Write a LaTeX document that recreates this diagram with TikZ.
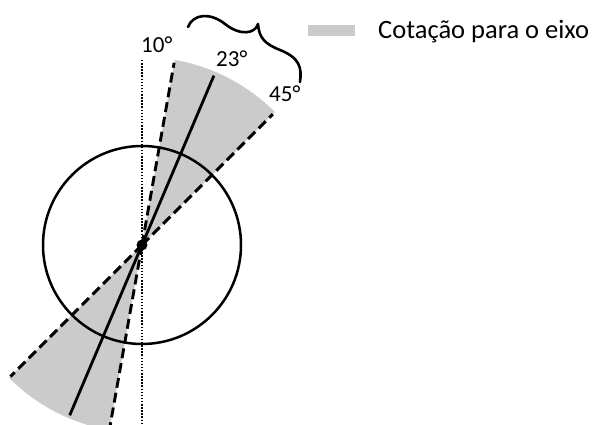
\documentclass[tikz,border=0pt]{standalone}
\usepackage{fontspec}
\setmainfont{Carlito}
\usetikzlibrary{calc}
\definecolor{wedgegray}{HTML}{CBCBCB}
\begin{document}
\begin{tikzpicture}[x=1pt,y=1pt,
  wedge/.style={fill=wedgegray},
  dashline/.style={line width=2.9pt,dash pattern=on 10pt off 5pt},
  solidline/.style={line width=2.8pt},
  dotline/.style={line width=2pt,dash pattern=on 1.5pt off 1.6pt},
  bracestyle/.style={line width=2.6pt,line cap=round,line join=round},
  deglabel/.style={font=\fontsize{23}{26}\selectfont,inner sep=0pt,anchor=base west},
  legendtext/.style={font=\fontsize{26.5}{30}\selectfont,inner sep=0pt,anchor=base west}]
\useasboundingbox (0,0) rectangle (595,425);
\clip (0,0) rectangle (595,425);
\fill[white] (0,0) rectangle (595,425);
\coordinate (c) at (142,180);
% wedges
\fill[wedge] (c) -- ++(80:188) arc[start angle=80,end angle=45,radius=188] -- cycle;
\fill[wedge] (c) -- ++(260:188) arc[start angle=260,end angle=225,radius=188] -- cycle;
% end points
\coordinate (d10t) at ($(c)+(80:185)$);
\coordinate (d45t) at ($(c)+(45:185)$);
\coordinate (s23t) at ($(c)+(67:184)$);
\coordinate (d10b) at ($(c)+(260:200)$);
\coordinate (d45b) at ($(c)+(225:186)$);
\coordinate (s23b) at ($(c)+(247:185)$);
\coordinate (vtop) at (142,365);
\coordinate (vbot) at (142,0);
% circle
\draw[line width=2.5pt] (c) circle[radius=99];
% vertical dotted
\draw[dotline] (vtop) -- (vbot);
% lines
\draw[dashline] (c) -- (d10t);
\draw[dashline] (c) -- (d45t);
\draw[solidline] (c) -- (s23t);
\draw[dashline] (c) -- (d10b);
\draw[dashline] (c) -- (d45b);
\draw[solidline] (c) -- (s23b);
\fill (c) circle[radius=5.5];
% labels
\node[deglabel] (l10) at (141,372) {10°};
\node[deglabel] (l23) at (216,358) {23°};
\node[deglabel] (l45) at (269,323) {45°};
% brace
\coordinate (bs) at (188,398);
\coordinate (bm) at (225,401);
\coordinate (btip) at (258,401);
\coordinate (bq) at (280,375);
\coordinate (be) at (300,343);
\draw[bracestyle] (bs) .. controls (193,411) and (210,413) .. (bm)
  .. controls (240,389) and (255,391) .. (btip)
  .. controls (259,387) and (265,381) .. (bq)
  .. controls (300,367) and (302,357) .. (be);
% legend
\fill[wedgegray] (308,389) rectangle (355,400);
\node[legendtext] (leg) at (378,386.5) {Cotação para o eixo};
\end{tikzpicture}
\end{document}
